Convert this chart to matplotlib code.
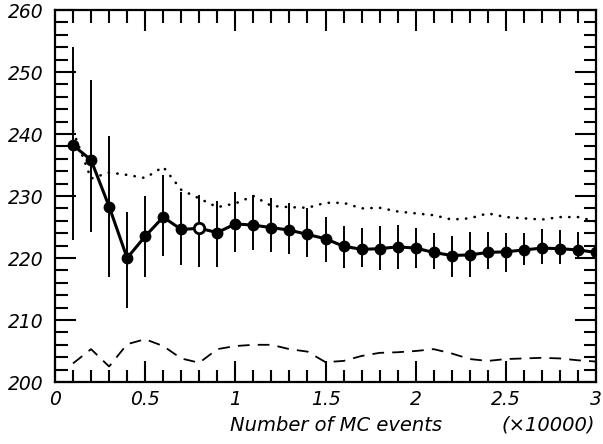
import matplotlib.pyplot as plt
from matplotlib.ticker import MultipleLocator

# values
n_events = [0.1, 0.2, 0.3, 0.4, 0.5, 0.6, 0.7, 0.8, 0.9, 1.0,
            1.1, 1.2, 1.3, 1.4, 1.5, 1.6, 1.7, 1.8, 1.9, 2.0,
            2.1, 2.2, 2.3, 2.4, 2.5, 2.6, 2.7, 2.8, 2.9, 3.0]

mean_val = [238.2, 235.8, 228.3, 220.0, 223.5, 226.6, 224.6, 224.8, 224.1, 225.5,
            225.3, 224.9, 224.5, 223.8, 223.1, 221.9, 221.4, 221.5, 221.8, 221.6,
            220.9, 220.4, 220.5, 220.9, 221.0, 221.3, 221.6, 221.5, 221.3, 220.9]
err_low = [222.9, 224.2, 217.0, 211.9, 217.0, 220.3, 218.9, 218.6, 218.6, 221.0,
           221.3, 220.9, 220.6, 220.1, 219.3, 218.4, 218.5, 218.0, 218.3, 218.4,
           218.3, 216.9, 216.9, 218.3, 217.8, 218.9, 219.1, 219.1, 219.9, 218.5]
err_high = [254.0, 248.7, 239.6, 227.5, 230.0, 233.4, 230.7, 230.2, 229.2, 230.7,
            230.2, 229.6, 228.8, 228.0, 226.6, 225.1, 224.9, 225.1, 225.4, 224.9,
            224.0, 223.6, 224.2, 224.2, 224.1, 224.0, 224.7, 224.5, 224.2, 223.3]

dotted_val = [240.5, 232.8, 233.8, 233.4, 232.9, 234.7, 231.0, 229.6, 228.2, 228.8,
              230.0, 228.4, 228.2, 228.1, 228.9, 228.9, 228.0, 228.1, 227.5, 227.2,
              226.9, 226.2, 226.4, 227.2, 226.6, 226.4, 226.2, 226.6, 226.6, 225.9]

dashed_val = [203.0, 205.3, 202.5, 206.1, 206.9, 205.8, 203.8, 203.1, 205.3, 205.8,
              206.0, 206.0, 205.3, 204.9, 203.2, 203.4, 204.2, 204.7, 204.8, 205.0,
              205.3, 204.6, 203.7, 203.4, 203.7, 203.8, 203.9, 203.8, 203.5, 203.3]

open_points = [0.8]

fig = plt.figure(figsize=(6.03, 4.44), dpi=100)
ax = fig.add_axes([55/603, 1 - 382/444, 541/603, 372/444])

yerr = [[m - lo for m, lo in zip(mean_val, err_low)],
        [hi - m for m, hi in zip(mean_val, err_high)]]
ax.errorbar(n_events, mean_val, yerr=yerr, fmt='none', ecolor='black', elinewidth=1.4, capsize=0)
ax.plot(n_events, mean_val, color='black', lw=2.2, marker='o', ms=7.5, mfc='black', mec='black')
ox = [x for x in n_events if x in open_points]
oy = [m for x, m in zip(n_events, mean_val) if x in open_points]
ax.plot(ox, oy, ls='none', marker='o', ms=7.5, mfc='white', mec='black', mew=2)

ax.plot(n_events, dotted_val, color='black', lw=1.9, ls=(0, (0.1, 3.2)), dash_capstyle='round')
ax.plot(n_events, dashed_val, color='black', lw=1.3, ls=(0, (6.5, 4.5)))

ax.set_xlim(0, 3)
ax.set_ylim(200, 260)
ax.xaxis.set_major_locator(MultipleLocator(0.5))
ax.xaxis.set_minor_locator(MultipleLocator(0.1))
ax.yaxis.set_major_locator(MultipleLocator(10))
ax.yaxis.set_minor_locator(MultipleLocator(2))
ax.set_xticks([0, 0.5, 1, 1.5, 2, 2.5, 3])
ax.set_xticklabels(['0', '0.5', '1', '1.5', '2', '2.5', '3'])

ax.tick_params(which='both', direction='in', top=True, right=True, width=1.5, colors='black')
ax.tick_params(which='major', length=15)
ax.tick_params(which='minor', length=9)
ax.tick_params(axis='y', pad=8)
ax.tick_params(axis='x', pad=6)
for lab in ax.get_xticklabels() + ax.get_yticklabels():
    lab.set_fontsize(13.5)
    lab.set_fontstyle('italic')
for sp in ax.spines.values():
    sp.set_linewidth(1.6)

fig.text(336/603, 1 - 425/444, 'Number of MC events', ha='center', va='center',
         fontsize=14, fontstyle='italic')
fig.text(548/603, 1 - 425/444, '(\u00d710000)', ha='center', va='center',
         fontsize=14, fontstyle='italic')

plt.savefig('out.png', dpi=100)
